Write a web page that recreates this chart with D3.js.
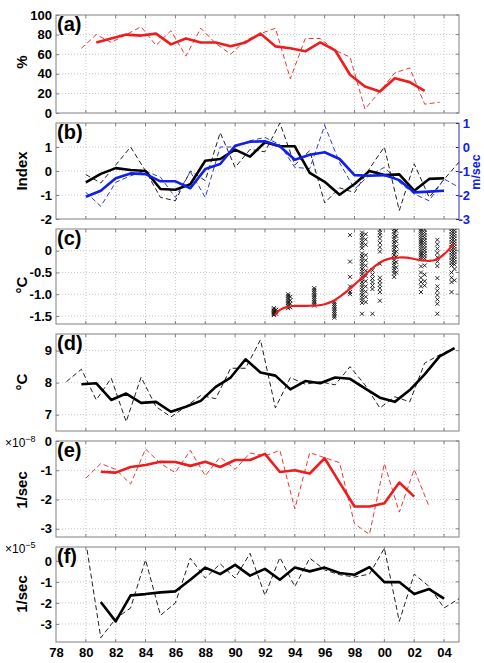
<!DOCTYPE html>
<html>
<head>
<meta charset="utf-8">
<script src="https://d3js.org/d3.v7.min.js"></script>
<style>
  body { margin: 0; background: #fff; }
  svg { display: block; }
  text { font-family: "Liberation Sans", Arial, sans-serif; }
</style>
</head>
<body>
<div id="chart"></div>
<script>
// years are written as 2-digit + 100 after 1999 (00 -> 100)
const xTickYears = [78, 80, 82, 84, 86, 88, 90, 92, 94, 96, 98, 100, 102, 104];

// (a) percent
const aYears = [80,81,82,83,84,85,86,87,88,89,90,91,92,93,94,95,96,97,98,99,100,101,102,103,104];
const aAnnual = [66,80,72,80,88,69,84,58,86.5,71,60,74,81,86.5,35,76,76,64,57,4,22,41,46,9,11];
const aSmoothYears = [81,82,83,84,85,86,87,88,89,90,91,92,93,94,95,96,97,98,99,100,101,102,103];
const aSmooth = [72,76,80,79,81,70,76,72,72,68,72,81,68,66,63,72,64,39,27,22,35.5,31.5,22.5];

// (b) index (black, left) and wind m/sec (blue, right)
const bYears = [80,81,82,83,84,85,86,87,88,89,90,91,92,93,94,95,96,97,98,99,100,101,102,103,104,105];
const bIndexAnnual = [-0.15,-0.5,0.25,1.0,0.0,-1.1,-1.24,0.0,-0.4,1.6,0.15,0.9,0.8,2.0,0.25,0.85,-1.33,-0.7,-0.9,0.1,1.0,-1.65,0.3,-1.1,-0.35,0.37];
const bSmoothYears = [80,81,82,83,84,85,86,87,88,89,90,91,92,93,94,95,96,97,98,99,100,101,102,103,104];
const bIndexSmooth = [-0.47,-0.12,0.12,0.04,0.0,-0.75,-0.78,-0.55,0.43,0.5,0.89,0.6,1.2,1.03,1.03,-0.08,-0.45,-0.99,-0.54,0.0,-0.17,-0.14,-0.82,-0.33,-0.3];
const bWindAnnual = [-1.89,-2.47,-1.47,-1.2,-1.0,-1.26,-2.1,-1.03,-2.1,0.0,0.0,0.26,0.4,0.1,-0.85,-0.9,0.9,-0.65,-1.75,-1.17,-0.85,-1.47,-1.96,-2.24,-1.33,-1.68];
const bWindSmooth = [-2.07,-1.82,-1.3,-1.1,-1.13,-1.43,-1.43,-1.72,-0.92,-0.71,0.05,0.22,0.24,0.03,-0.53,-0.32,-0.22,-0.5,-1.17,-1.2,-1.17,-1.38,-1.89,-1.86,-1.82];

// (c) observations (x) and fitted curve
const cObsYears = [92.6, 92.75, 93.55, 93.7, 95.3, 96.65, 97.7, 98.5, 98.75, 99.2, 99.7, 100.65, 100.8, 102.45, 102.7, 103.55, 104.5, 104.7];
const cObsTemps = [
  [-1.32,-1.35,-1.38,-1.4,-1.42,-1.44,-1.46,-1.48],
  [-1.36,-1.41,-1.45],
  [-1.0,-1.04,-1.08,-1.12,-1.16,-1.2,-1.24,-1.28,-1.32],
  [-1.06,-1.14,-1.22,-1.3],
  [-0.86,-0.9,-0.94,-0.98,-1.02,-1.06,-1.1,-1.14,-1.18,-1.22,-1.26],
  [-1.18,-1.22,-1.26,-1.3,-1.34,-1.38,-1.42,-1.46,-1.5,-1.54],
  [0.36,-0.25,-0.6,-0.82,-0.95,-1.0],
  [0.42,0.36,0.3,0.24,0.18,0.12,0.06,-0.06,-0.12,-0.18,-0.24,-0.3,-0.36,-0.42,-0.48,-0.54,-0.6,-0.66,-0.72,-0.78,-0.84,-0.9,-0.96,-1.02,-1.08,-1.14,-1.2,-1.45],
  [0.38,0.26,0.14,-0.1,-0.22,-0.34,-0.46,-0.58,-0.7,-0.82,-0.94,-1.06,-1.18],
  [-0.45,-0.55,-0.64,-0.72,-0.8,-0.88,-1.45],
  [0.48,0.42,0.36,0.28,0.18,0.08,-0.02,-0.3,-0.62,-0.7,-0.78,-0.86,-0.95,-1.15],
  [0.5,0.44,0.38,0.32,0.26,0.2,0.14,0.08,0.02,-0.04,-0.1,-0.16,-0.22,-0.28,-0.34,-0.4,-0.46,-0.52,-0.6],
  [0.46,0.34,0.22,0.1,-0.02,-0.14,-0.26,-0.38,-0.5],
  [0.5,0.45,0.4,0.35,0.3,0.25,0.2,0.15,0.1,0.05,0.0,-0.05,-0.1,-0.15,-0.2,-0.36,-0.5,-0.62,-0.72,-0.82,-0.95],
  [0.48,0.42,0.36,0.3,0.24,0.18,0.12,0.06,0.0,-0.06,-0.12,-0.18,-0.34,-0.55,-0.7,-0.8],
  [0.25,0.15,0.05,-0.05,-0.15,-0.25,-0.35,-0.63,-0.82,-0.92,-1.02,-1.12,-1.22,-1.45],
  [0.5,0.44,0.38,0.32,0.26,0.2,0.14,0.08,0.02,-0.04,-0.1,-0.16,-0.22,-0.28,-0.34,-0.5,-0.62,-0.72,-0.95],
  [0.52,0.46,0.4,0.34,0.28,0.22,0.16,0.1,0.04,-0.02,-0.08,-0.14,-0.2,-0.26,-0.32,-0.42,-0.68]
];
const cFitYears = [92.65,93,93.5,94,94.5,95,95.5,96,96.5,97,97.5,98,98.5,99,99.5,100,100.5,101,101.5,102,102.5,103,103.5,104,104.3,104.65];
const cFit = [-1.48,-1.36,-1.29,-1.27,-1.27,-1.265,-1.26,-1.23,-1.17,-1.06,-0.93,-0.78,-0.62,-0.46,-0.32,-0.22,-0.17,-0.155,-0.16,-0.19,-0.22,-0.235,-0.2,-0.08,0.02,0.17];

// (d) temperature
const dYears = [79,80,81,82,83,84,85,86,87,88,89,90,91,92,93,94,95,96,97,98,99,100,101,102,103,104,105];
const dAnnual = [8.03,8.42,7.46,8.14,6.78,8.17,7.25,6.93,7.25,7.6,7.5,8.45,8.45,9.34,7.21,8.16,7.95,8.03,7.93,8.5,7.93,7.21,7.56,7.4,8.61,8.87,9.08];
const dSmoothYears = [80,81,82,83,84,85,86,87,88,89,90,91,92,93,94,95,96,97,98,99,100,101,102,103,104,105];
const dSmooth = [7.95,7.98,7.46,7.66,7.37,7.4,7.09,7.25,7.43,7.87,8.16,8.73,8.32,8.22,7.79,8.05,7.98,8.16,8.12,7.82,7.53,7.4,7.77,8.26,8.82,9.08];

// (e) 1/sec x 1e-8
const eYears = [80,81,82,83,84,85,86,87,88,89,90,91,92,93,94,95,96,97,98,99,100,101,102,103];
const eAnnual = [-1.27,-0.77,-0.97,-1.47,-0.27,-0.77,-1.08,-0.32,-1.19,-0.55,-0.97,-0.41,-0.51,-0.32,-2.32,-0.4,-0.57,-0.74,-2.83,-3.19,-0.77,-2.43,-0.97,-2.24];
const eSmoothYears = [81,82,83,84,85,86,87,88,89,90,91,92,93,94,95,96,97,98,99,100,101,102];
const eSmooth = [-1.05,-1.08,-0.89,-0.82,-0.71,-0.72,-0.85,-0.71,-0.89,-0.65,-0.65,-0.44,-1.06,-1.0,-1.11,-0.59,-1.42,-2.24,-2.24,-2.13,-1.42,-1.9];

// (f) 1/sec x 1e-5
const fYears = [80,81,82,83,84,85,86,87,88,89,90,91,92,93,94,95,96,97,98,99,100,101,102,103,104,105];
const fAnnual = [0.9,-3.66,-2.75,-2.24,0.05,-2.59,-2.0,0.13,-0.82,-0.14,-0.82,0.36,-1.64,0.16,-1.22,0.13,-0.43,-0.66,-0.77,-0.63,0.6,-2.88,-0.63,-1.22,-2.24,-1.8];
const fSmoothYears = [81,82,83,84,85,86,87,88,89,90,91,92,93,94,95,96,97,98,99,100,101,102,103,104];
const fSmooth = [-1.96,-2.88,-1.64,-1.58,-1.5,-1.45,-0.9,-0.32,-0.63,-0.19,-0.7,-0.38,-0.9,-0.32,-0.5,-0.32,-0.58,-0.66,-0.3,-1.01,-1.01,-1.58,-1.34,-1.8];

const width = 484, height = 663;
const left = 56, right = 459;
const RED = "#ee1c1c", BLUE = "#1020e8";

const svg = d3.select("#chart").append("svg")
    .attr("width", width)
    .attr("height", height);

const x = d3.scaleLinear().domain([78, 105]).range([left, right]);

const zip = (xs, ys) => xs.map((v, i) => [v, ys[i]]);
const fmtInt = v => String(v).replace("−", "-");
const fmtOne = v => v === 0 ? "0" : v.toFixed(1);

const panels = [
  { key: "a", top: 15, bottom: 113, domain: [0, 100], ticks: [0, 20, 40, 60, 80, 100], labels: [0, 20, 40, 60, 80, 100], fmt: fmtInt, title: "%", titleY: 62, shift: -0.3 },
  { key: "b", top: 123, bottom: 219, domain: [-2, 2], ticks: [-2, -1, 0, 1, 2], labels: [-2, -1, 0, 1], fmt: fmtInt, title: "Index", titleY: 171, shift: 0 },
  { key: "c", top: 229, bottom: 324, domain: [-1.685, 0.5], ticks: [-1.5, -1, -0.5, 0, 0.5], labels: [-1.5, -1, -0.5, 0], fmt: fmtOne, title: "\u00B0C", titleY: 285, shift: 0 },
  { key: "d", top: 334, bottom: 431, domain: [6.49, 9.52], ticks: [7, 8, 9], labels: [7, 8, 9], fmt: fmtInt, title: "\u00B0C", titleY: 382, shift: -0.3 },
  { key: "e", top: 441, bottom: 537, domain: [-3.28, 0], ticks: [-3, -2, -1, 0], labels: [-3, -2, -1, 0], fmt: fmtInt, title: "1/sec", titleY: 490, shift: 0, exp: "\u22128" },
  { key: "f", top: 547, bottom: 642, domain: [-3.86, 0.66], ticks: [-3, -2, -1, 0], labels: [-3, -2, -1, 0], fmt: fmtInt, title: "1/sec", titleY: 594, shift: 0, exp: "\u22125" }
];

const scales = {};

panels.forEach(p => {
  const y = d3.scaleLinear().domain(p.domain).range([p.bottom, p.top]);
  scales[p.key] = y;
  const g = svg.append("g").attr("class", "panel-" + p.key);

  svg.append("clipPath").attr("id", "clip-" + p.key)
    .append("rect")
    .attr("x", left).attr("y", p.top)
    .attr("width", right - left).attr("height", p.bottom - p.top);

  // grid
  g.selectAll(".vgrid").data(xTickYears.filter(d => d > 78))
    .join("line")
    .attr("x1", d => x(d)).attr("x2", d => x(d))
    .attr("y1", p.top).attr("y2", p.bottom)
    .attr("stroke", "#b8b8b8").attr("stroke-width", 0.8)
    .attr("stroke-dasharray", "1,2");
  g.selectAll(".hgrid").data(p.ticks.filter(t => y(t) > p.top + 1 && y(t) < p.bottom - 1))
    .join("line")
    .attr("x1", left).attr("x2", right)
    .attr("y1", d => y(d)).attr("y2", d => y(d))
    .attr("stroke", "#b8b8b8").attr("stroke-width", 0.8)
    .attr("stroke-dasharray", "1,2");

  // left axis
  const ax = g.append("g")
    .attr("transform", `translate(${left},0)`)
    .call(d3.axisLeft(y).tickValues(p.labels).tickSize(-3).tickPadding(4).tickFormat(p.fmt));
  ax.select(".domain").remove();
  ax.selectAll("line").attr("stroke", "#808080");
  ax.selectAll("text").attr("font-size", 13).attr("font-weight", "bold").attr("fill", "#000")
    .attr("font-family", "Liberation Sans, Arial, sans-serif");

  // top / bottom small ticks
  const tb = g.append("g");
  tb.selectAll(".tt").data(xTickYears.filter(d => d > 78)).join("line")
    .attr("x1", d => x(d)).attr("x2", d => x(d))
    .attr("y1", p.top).attr("y2", p.top + 3).attr("stroke", "#808080");
  tb.selectAll(".bt").data(xTickYears.filter(d => d > 78)).join("line")
    .attr("x1", d => x(d)).attr("x2", d => x(d))
    .attr("y1", p.bottom).attr("y2", p.bottom - 3).attr("stroke", "#808080");
  if (p.key !== "b") {
    tb.selectAll(".rt").data(p.labels).join("line")
      .attr("x1", right).attr("x2", right - 3)
      .attr("y1", d => y(d)).attr("y2", d => y(d)).attr("stroke", "#808080");
  }

  // frame
  g.append("rect")
    .attr("x", left).attr("y", p.top)
    .attr("width", right - left).attr("height", p.bottom - p.top)
    .attr("fill", "none").attr("stroke", "#808080").attr("stroke-width", 1);

  // y title
  g.append("text")
    .attr("transform", `translate(27,${p.titleY}) rotate(-90)`)
    .attr("text-anchor", "middle")
    .attr("font-size", 15).attr("font-weight", "bold")
    .text(p.title);

  // panel letter
  g.append("text")
    .attr("x", left + 1).attr("y", p.top + 16)
    .attr("font-family", "Liberation Serif, Times New Roman, serif")
    .attr("font-size", 20).attr("font-weight", "bold")
    .text(`(${p.key})`);

  if (p.exp) {
    const t = g.append("text")
      .attr("x", 5).attr("y", p.top + 6)
      .attr("font-size", 12);
    t.append("tspan").text("\u00D710");
    t.append("tspan").attr("font-size", 9).attr("dy", -5).text(p.exp);
  }
});

function drawLine(key, xs, ys, opts) {
  const p = panels.find(d => d.key === key);
  const y = opts.scale || scales[key];
  const line = d3.line()
    .x(d => x(d[0] + p.shift))
    .y(d => y(d[1]))
    .curve(opts.curve || d3.curveLinear);
  svg.append("path")
    .datum(zip(xs, ys))
    .attr("clip-path", `url(#clip-${key})`)
    .attr("d", line)
    .attr("fill", "none")
    .attr("stroke", opts.color)
    .attr("stroke-width", opts.width)
    .attr("stroke-dasharray", opts.dash || null)
    .attr("stroke-linejoin", "round");
}

// (a)
drawLine("a", aYears, aAnnual, { color: "#e83a3a", width: 1, dash: "5,3" });
drawLine("a", aSmoothYears, aSmooth, { color: RED, width: 2.6 });

// (b) right axis for wind
const yWind = d3.scaleLinear().domain([-3, 1]).range([219, 123]);
const rax = svg.append("g")
  .attr("transform", `translate(${right},0)`)
  .call(d3.axisRight(yWind).tickValues([-3, -2, -1, 0, 1]).tickSize(-3).tickPadding(11).tickFormat(fmtInt));
rax.select(".domain").remove();
rax.selectAll("line").attr("stroke", BLUE);
rax.selectAll("text").attr("font-size", 13).attr("font-weight", "bold").attr("fill", BLUE)
  .attr("text-anchor", "end").attr("font-family", "Liberation Sans, Arial, sans-serif");
svg.append("line")
  .attr("x1", right).attr("x2", right).attr("y1", 123).attr("y2", 219)
  .attr("stroke", "#6a6af0").attr("stroke-width", 1);
svg.append("text")
  .attr("transform", "translate(480,172) rotate(-90)")
  .attr("text-anchor", "middle")
  .attr("font-size", 12.5).attr("font-weight", "bold").attr("fill", BLUE)
  .text("m/sec");

drawLine("b", bYears, bIndexAnnual, { color: "#222", width: 1, dash: "5,3" });
drawLine("b", bYears, bWindAnnual, { color: "#3040e0", width: 1, dash: "5,3", scale: yWind });
drawLine("b", bSmoothYears, bIndexSmooth, { color: "#000", width: 2.6 });
drawLine("b", bSmoothYears, bWindSmooth, { color: BLUE, width: 2.6, scale: yWind });

// (c) observations
const cPts = cObsYears.flatMap((yr, i) => cObsTemps[i].map(v => [yr, v]));
svg.append("g").attr("clip-path", "url(#clip-c)")
  .selectAll("path").data(cPts).join("path")
  .attr("transform", d => `translate(${x(d[0])},${scales.c(d[1])})`)
  .attr("d", "M-2,-2L2,2M-2,2L2,-2")
  .attr("stroke", "#111").attr("stroke-width", 0.9);
drawLine("c", cFitYears, cFit, { color: RED, width: 2.2, curve: d3.curveCatmullRom });

// (d)
drawLine("d", dYears, dAnnual, { color: "#222", width: 1, dash: "5,3" });
drawLine("d", dSmoothYears, dSmooth, { color: "#000", width: 2.6 });

// (e)
drawLine("e", eYears, eAnnual, { color: "#e83a3a", width: 1, dash: "5,3" });
drawLine("e", eSmoothYears, eSmooth, { color: RED, width: 2.6 });

// (f)
drawLine("f", fYears, fAnnual, { color: "#222", width: 1, dash: "5,3" });
drawLine("f", fSmoothYears, fSmooth, { color: "#000", width: 2.6 });

// bottom x axis labels
const xa = svg.append("g")
  .attr("transform", "translate(0,642)")
  .call(d3.axisBottom(x).tickValues(xTickYears).tickSize(0).tickPadding(6)
    .tickFormat(d => d3.format("02d")(d % 100)));
xa.select(".domain").remove();
xa.selectAll("text").attr("font-size", 13).attr("font-weight", "bold").attr("fill", "#000")
  .attr("font-family", "Liberation Sans, Arial, sans-serif");
</script>
</body>
</html>
